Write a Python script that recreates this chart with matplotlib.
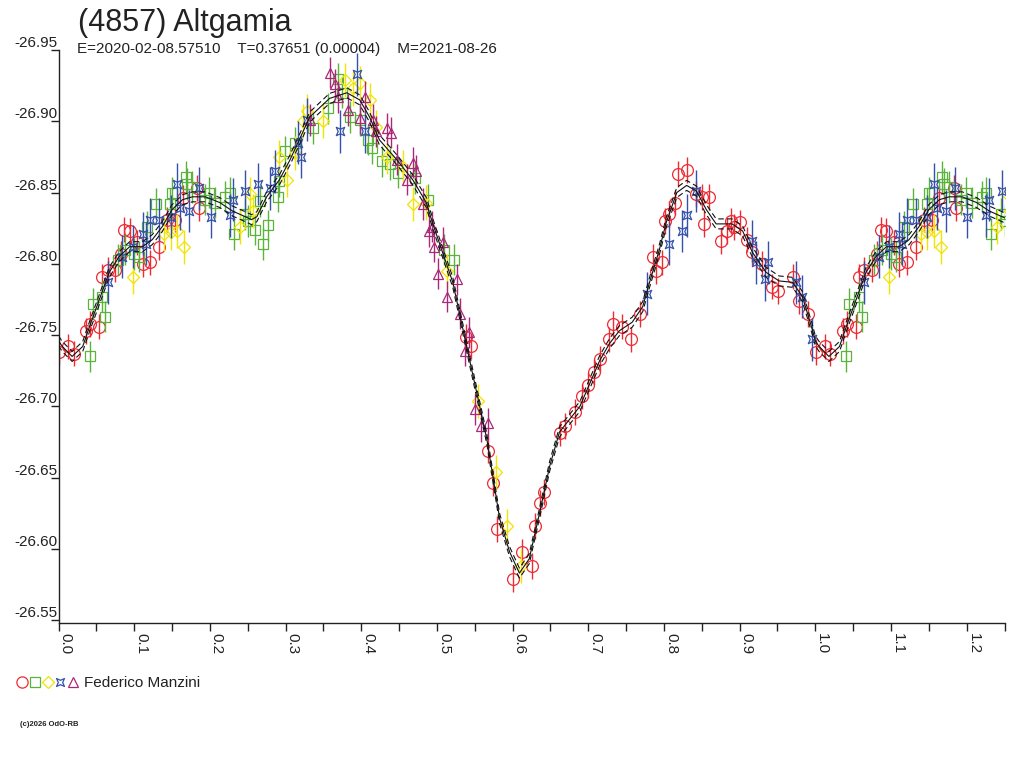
import matplotlib
matplotlib.use("Agg")
import matplotlib.pyplot as plt
from matplotlib.path import Path
from matplotlib.legend_handler import HandlerTuple
from matplotlib.lines import Line2D
from matplotlib.ticker import MultipleLocator, FixedLocator

plt.rcParams['font.family'] = ['Liberation Sans', 'DejaVu Sans']

title = "(4857) Altgamia"
subtitle = "E=2020-02-08.57510    T=0.37651 (0.00004)    M=2021-08-26"
observer = "Federico Manzini"
copyright_txt = "(c)2026 OdO-RB"

red_phase = [0.001, 0.013, 0.020, 0.036, 0.042, 0.054, 0.058, 0.065, 0.075, 0.082, 0.087, 0.094, 0.104, 0.111,
             0.121, 0.133, 0.144, 0.154, 0.164, 0.183, 0.186,
             0.538, 0.545, 0.567, 0.574, 0.579, 0.601, 0.613, 0.625, 0.630, 0.636, 0.642, 0.662, 0.669, 0.682,
             0.692, 0.699, 0.708, 0.716, 0.728, 0.733, 0.745, 0.756, 0.768, 0.785, 0.790, 0.797, 0.802, 0.807,
             0.814, 0.819, 0.831, 0.843, 0.850, 0.853, 0.860, 0.876, 0.883, 0.888, 0.893, 0.900, 0.910, 0.917,
             0.929, 0.943, 0.951, 0.970, 0.979, 0.991]
red_mag = [-26.738, -26.742, -26.737, -26.753, -26.758, -26.756, -26.791, -26.796, -26.796, -26.807, -26.824, -26.823,
           -26.815, -26.800, -26.801, -26.812, -26.831, -26.831, -26.846, -26.853, -26.839,
           -26.749, -26.742, -26.669, -26.646, -26.614, -26.579, -26.598, -26.588, -26.616, -26.632, -26.640, -26.681,
           -26.686, -26.696, -26.707, -26.715, -26.724, -26.733, -26.747, -26.758, -26.756, -26.747, -26.765, -26.805,
           -26.795, -26.801, -26.830, -26.835, -26.843, -26.863, -26.866, -26.849, -26.847, -26.828, -26.847, -26.816,
           -26.823, -26.830, -26.826, -26.829, -26.817, -26.808, -26.800, -26.784, -26.781, -26.791, -26.774, -26.765]

green_phase = [0.041, 0.045, 0.058, 0.062, 0.078, 0.088, 0.100, 0.107, 0.117, 0.129, 0.147, 0.150, 0.168, 0.170,
               0.177, 0.193, 0.199, 0.207, 0.220, 0.226, 0.232, 0.246, 0.250, 0.260, 0.266, 0.270, 0.277, 0.290,
               0.292, 0.299, 0.312, 0.336, 0.356, 0.369, 0.374, 0.385, 0.398, 0.409, 0.414, 0.428, 0.438, 0.448,
               0.471, 0.488, 0.509, 0.522]
green_mag = [-26.735, -26.772, -26.777, -26.763, -26.803, -26.810, -26.807, -26.805, -26.826, -26.842, -26.842, -26.850,
             -26.861, -26.856, -26.854, -26.845, -26.850, -26.843, -26.847, -26.850, -26.821, -26.835, -26.830, -26.824,
             -26.844, -26.814, -26.827, -26.847, -26.858, -26.879, -26.885, -26.895, -26.909, -26.930, -26.920, -26.903,
             -26.901, -26.887, -26.881, -26.872, -26.870, -26.864, -26.860, -26.845, -26.810, -26.803]

yellow_phase = [0.098, 0.140, 0.148, 0.157, 0.166, 0.240, 0.253, 0.257, 0.292, 0.302, 0.312, 0.323, 0.328, 0.349,
                0.378, 0.389, 0.398, 0.411, 0.420, 0.434, 0.455, 0.468, 0.486, 0.514, 0.554, 0.578, 0.593, 0.611]
yellow_mag = [-26.791, -26.821, -26.822, -26.823, -26.812, -26.826, -26.849, -26.837, -26.875, -26.859, -26.878, -26.900,
              -26.907, -26.900, -26.929, -26.923, -26.927, -26.915, -26.896, -26.875, -26.868, -26.842, -26.843, -26.795,
              -26.704, -26.654, -26.616, -26.588]

blue_phase = [0.065, 0.084, 0.098, 0.111, 0.115, 0.121, 0.133, 0.148, 0.157, 0.161, 0.173, 0.185, 0.201, 0.226,
              0.230, 0.247, 0.264, 0.279, 0.286, 0.316, 0.321, 0.329, 0.372, 0.394, 0.405, 0.778, 0.807, 0.824,
              0.830, 0.843, 0.916, 0.922, 0.934, 0.937, 0.975, 0.983, 0.995]
blue_mag = [-26.787, -26.805, -26.812, -26.821, -26.814, -26.831, -26.831, -26.833, -26.856, -26.839, -26.837, -26.853,
            -26.833, -26.834, -26.845, -26.851, -26.856, -26.853, -26.865, -26.885, -26.875, -26.901, -26.893, -26.933,
            -26.893, -26.779, -26.814, -26.823, -26.834, -26.851, -26.816, -26.801, -26.789, -26.801, -26.787, -26.777,
            -26.747]

purple_phase = [0.332, 0.359, 0.365, 0.369, 0.382, 0.398, 0.405, 0.415, 0.420, 0.434, 0.440, 0.447, 0.461, 0.468,
                0.473, 0.481, 0.490, 0.493, 0.496, 0.501, 0.508, 0.513, 0.526, 0.530, 0.537, 0.542, 0.550, 0.558,
                0.567]
purple_mag = [-26.901, -26.934, -26.926, -26.917, -26.908, -26.902, -26.917, -26.901, -26.893, -26.895, -26.892, -26.873,
              -26.859, -26.871, -26.865, -26.842, -26.823, -26.826, -26.812, -26.793, -26.815, -26.777, -26.789, -26.765,
              -26.739, -26.752, -26.698, -26.686, -26.688]

curve_phase = [0.000, 0.005, 0.018, 0.032, 0.041, 0.054, 0.067, 0.080, 0.094, 0.111, 0.124, 0.137, 0.150, 0.164,
               0.177, 0.194, 0.213, 0.230, 0.247, 0.255, 0.262, 0.275, 0.292, 0.306, 0.332, 0.358, 0.381, 0.398,
               0.411, 0.424, 0.447, 0.468, 0.486, 0.494, 0.521, 0.543, 0.566, 0.583, 0.596, 0.609, 0.622, 0.636,
               0.649, 0.662, 0.689, 0.715, 0.728, 0.741, 0.758, 0.772, 0.781, 0.794, 0.803, 0.817, 0.830, 0.843,
               0.856, 0.869, 0.890, 0.904, 0.917, 0.935, 0.952, 0.970, 0.983, 0.996]
curve_mag = [-26.746, -26.742, -26.735, -26.742, -26.756, -26.775, -26.794, -26.805, -26.812, -26.812, -26.817, -26.826,
             -26.838, -26.845, -26.847, -26.847, -26.843, -26.837, -26.833, -26.831, -26.833, -26.847, -26.859, -26.873,
             -26.903, -26.916, -26.920, -26.915, -26.903, -26.887, -26.873, -26.859, -26.843, -26.829, -26.787, -26.733,
             -26.677, -26.621, -26.598, -26.583, -26.593, -26.626, -26.658, -26.682, -26.700, -26.732, -26.744, -26.753,
             -26.759, -26.770, -26.787, -26.810, -26.829, -26.850, -26.855, -26.851, -26.838, -26.828, -26.828, -26.823,
             -26.808, -26.794, -26.788, -26.787, -26.777, -26.754]
curve_band = 0.0035

x_ticks = [0.0, 0.1, 0.2, 0.3, 0.4, 0.5, 0.6, 0.7, 0.8, 0.9, 1.0, 1.1, 1.2]
y_ticks = [-26.95, -26.90, -26.85, -26.80, -26.75, -26.70, -26.65, -26.60, -26.55]


def extend(ph, mg, upto=0.26):
    p2 = list(ph) + [p + 1.0 for p in ph if p < upto]
    m2 = list(mg) + [m for p, m in zip(ph, mg) if p < upto]
    return p2, m2


bow = Path([(-1, -1), (0, -0.55), (1, -1), (0.55, 0), (1, 1), (0, 0.55), (-1, 1), (-0.55, 0), (-1, -1)],
           [Path.MOVETO] + [Path.LINETO] * 7 + [Path.CLOSEPOLY])

series = [
    (red_phase, red_mag, '#ee2a33', 'o', 8.5, 0.009),
    (green_phase, green_mag, '#5ab43c', 's', 7.0, 0.011),
    (yellow_phase, yellow_mag, '#f2e400', 'D', 6.0, 0.012),
    (blue_phase, blue_mag, '#3450aa', bow, 6.0, 0.015),
    (purple_phase, purple_mag, '#aa2878', '^', 7.5, 0.011),
]

fig = plt.figure(figsize=(10.24, 7.68), dpi=100)
ax = fig.add_axes([58.5 / 1024, 1 - 623 / 768, (1004.5 - 58.5) / 1024, (623 - 50) / 768])

handles = []
for ph, mg, col, mk, ms, err in series:
    p2, m2 = extend(ph, mg)
    ax.errorbar(p2, m2, yerr=err, fmt='none', ecolor=col, elinewidth=1.0, capsize=0, zorder=2)
    ax.plot(p2, m2, linestyle='none', marker=mk, ms=ms, mfc='none', mec=col, mew=0.9, zorder=2)
    handles.append(Line2D([], [], linestyle='none', marker=mk, ms=ms * 0.95, mfc='none', mec=col, mew=0.9))

cp, cm = extend(curve_phase, curve_mag)
ax.plot(cp, cm, color='#111111', lw=0.8, zorder=3)
ax.plot(cp, [m - curve_band for m in cm], color='#111111', lw=0.8, ls=(0, (5, 3)), zorder=3)
ax.plot(cp, [m + curve_band for m in cm], color='#111111', lw=0.8, ls=(0, (5, 3)), zorder=3)

ax.set_xlim(0, 1.25)
ax.set_ylim(-26.548, -26.95)

for s in ['top', 'right']:
    ax.spines[s].set_visible(False)
for s in ['left', 'bottom']:
    ax.spines[s].set_linewidth(1.0)
    ax.spines[s].set_color('#222222')

ax.xaxis.set_major_locator(FixedLocator(x_ticks))
ax.xaxis.set_minor_locator(MultipleLocator(0.05))
ax.set_xticklabels([f"{v:.1f}" for v in x_ticks], rotation=270, ha='left', va='top',
                   fontsize=11, color='#222222')
ax.tick_params(axis='x', which='both', direction='out', length=6, width=1.0, color='#222222', pad=1)

ax.set_yticks(y_ticks)
ax.set_yticklabels([f"{v:.2f}" for v in y_ticks], fontsize=11, color='#222222')
ax.tick_params(axis='y', which='major', direction='out', length=6, width=1.0, color='#222222', pad=-5)
for lab in ax.get_yticklabels():
    lab.set_verticalalignment('bottom')

fig.text(78 / 1024, 1 - 31 / 768, title, fontsize=22, color='#222222', va='baseline', ha='left')
fig.text(77 / 1024, 1 - 53 / 768, subtitle, fontsize=11, color='#222222', va='baseline', ha='left')

leg = fig.legend([tuple(handles)], [observer], handler_map={tuple: HandlerTuple(ndivide=None, pad=0.15)},
                 loc='center left', bbox_to_anchor=(17 / 1024, 1 - 683 / 768), frameon=False,
                 handlelength=4.0, handletextpad=0.4, fontsize=11, borderaxespad=0, borderpad=0)
for t in leg.get_texts():
    t.set_color('#222222')

fig.text(20 / 1024, 1 - 725 / 768, copyright_txt, fontsize=5.5, color='#222222', va='center', ha='left',
         fontweight='bold')

fig.savefig('out.png', dpi=100)
